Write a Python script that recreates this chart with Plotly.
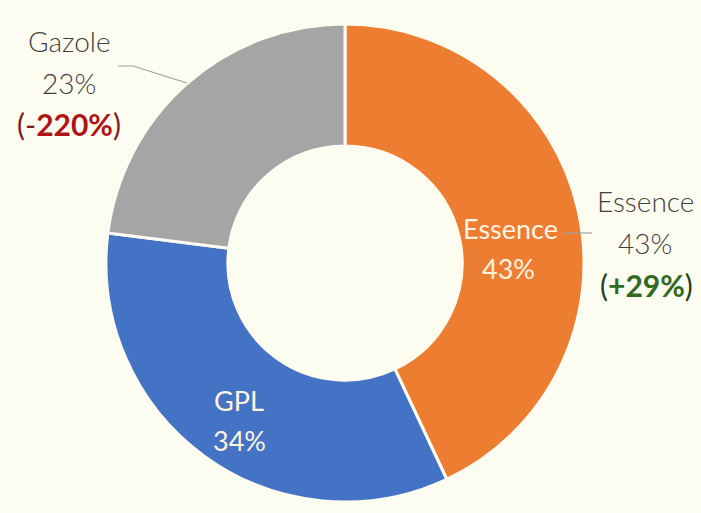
import plotly.graph_objects as go

W, H = 701, 513

labels = ["Essence", "GPL", "Gazole"]
values = [43, 34, 23]
changes = ["+29%", None, "-220%"]
colors = ["#ED7D31", "#4472C4", "#A5A5A5"]

BG = "#FDFCF1"
FONT = "Lato"

def px(x):
    return x / W

def py(y):
    return 1 - y / H

# pie geometry (pixels)
cx, cy, d = 345, 263, 478
dom_x = [px(cx - d / 2), px(cx + d / 2)]
dom_y = [py(cy + d / 2), py(cy - d / 2)]

fig = go.Figure(go.Pie(
    labels=labels,
    values=values,
    sort=False,
    direction="clockwise",
    rotation=0,
    hole=0.49,
    marker=dict(colors=colors, line=dict(color=BG, width=3)),
    textinfo="none",
    hoverinfo="skip",
    showlegend=False,
    domain=dict(x=dom_x, y=dom_y),
))

total = sum(values)
pct = [f"{round(v / total * 100)}%" for v in values]

ann = []
def add(text, x, y, size, color, weight=300):
    ann.append(dict(text=text, x=px(x), y=py(y), xref="paper", yref="paper",
                    showarrow=False, xanchor="center", yanchor="middle",
                    font=dict(family=FONT, size=size, color=color, weight=weight)))

inner_col = "#FFF3E2"
# inside labels
add(labels[0], 510, 228, 27, inner_col, 400)
add(pct[0], 508, 268, 27, inner_col, 400)
add(labels[1], 239, 400, 27, inner_col, 400)
add(pct[1], 239, 440, 27, inner_col, 400)

out_col = "#404040"
# outside labels: Essence
add(labels[0], 645, 201, 28, out_col)
add(pct[0], 645, 243, 28, out_col)
add(f"<span style='color:#24401a'>(</span><b>{changes[0]}</b><span style='color:#24401a'>)</span>",
    646, 285, 30, "#2F6A1E", 400)
# outside labels: Gazole
add(labels[2], 69, 41, 28, out_col)
add(pct[2], 69, 83, 28, out_col)
add(f"<span style='color:#7A1E1E'>(-</span><b>{changes[2][1:]}</b><span style='color:#7A1E1E'>)</span>",
    69, 124, 30, "#B01515", 400)

shapes = [
    dict(type="line", xref="paper", yref="paper",
         x0=px(563), y0=py(233), x1=px(592), y1=py(233),
         line=dict(color="#A0A0A0", width=1.2)),
    dict(type="path", xref="paper", yref="paper",
         path=f"M {px(118)},{py(66)} L {px(133)},{py(66)} L {px(187)},{py(83)}",
         line=dict(color="#A0A0A0", width=1.2)),
]

fig.update_layout(
    width=W, height=H,
    margin=dict(l=0, r=0, t=0, b=0),
    paper_bgcolor=BG,
    plot_bgcolor=BG,
    annotations=ann,
    shapes=shapes,
)

fig.write_html("out.html")
